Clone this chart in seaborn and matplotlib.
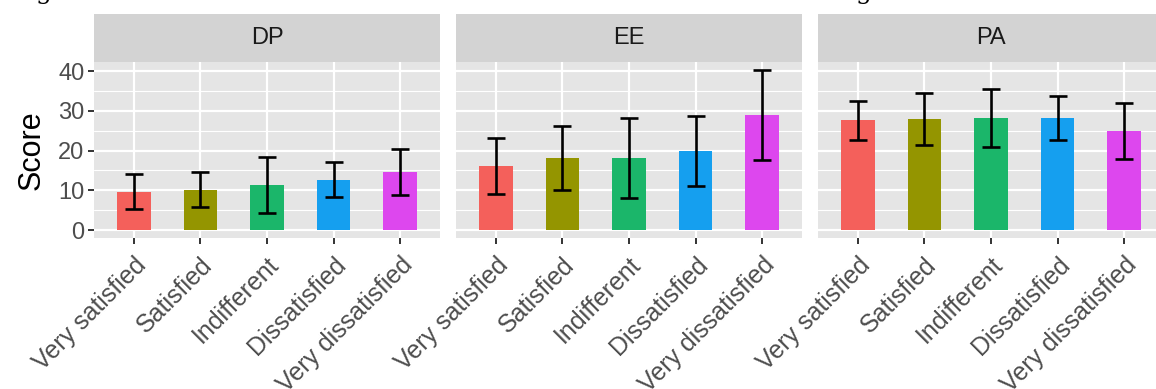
import numpy as np
import pandas as pd
import matplotlib
matplotlib.use("Agg")
import matplotlib.pyplot as plt
from matplotlib.patches import Rectangle
from matplotlib.transforms import ScaledTranslation
import seaborn as sns

# Burnout subscales by satisfaction level: mean score and standard deviation
levels = ["Very satisfied", "Satisfied", "Indifferent", "Dissatisfied", "Very dissatisfied"]
scales = ["DP", "EE", "PA"]

dp_mean = [9.7, 10.2, 11.3, 12.7, 14.6]
dp_sd = [4.3, 4.3, 7.0, 4.5, 5.7]
ee_mean = [16.2, 18.1, 18.1, 20.0, 28.9]
ee_sd = [7.0, 8.1, 10.0, 8.8, 11.3]
pa_mean = [27.6, 27.9, 28.2, 28.2, 24.9]
pa_sd = [5.0, 6.6, 7.3, 5.5, 7.1]

y_ticks = [0, 10, 20, 30, 40]
y_minor = [5, 15, 25, 35]

palette = ["#F4605B", "#949500", "#1BB66A", "#159FEF", "#DD47EE"]

df = pd.DataFrame({
    "scale": np.repeat(scales, len(levels)),
    "level": levels * len(scales),
    "score": dp_mean + ee_mean + pa_mean,
    "sd": dp_sd + ee_sd + pa_sd,
})

sns.set_theme(style="white")
plt.rcParams["font.family"] = ["Liberation Sans", "DejaVu Sans"]

W, H = 1156, 389
fig = plt.figure(figsize=(W / 100, H / 100), dpi=100)


def frame(x0, y0, x1, y1):
    return [x0 / W, 1 - y1 / H, (x1 - x0) / W, (y1 - y0) / H]


panel_px = [(94, 62, 440, 238), (456, 62, 802, 238), (818, 62, 1164, 238)]
strip_h = 48 / 176

panel_bg = "#E5E5E5"
strip_bg = "#D3D3D3"
tick_col = "#4D4D4D"

# drop rotated category labels a little below the tick marks
label_shift = ScaledTranslation(0, -5 / 100, fig.dpi_scale_trans)

for i, (scale, box) in enumerate(zip(scales, panel_px)):
    ax = fig.add_axes(frame(*box))
    sub = df[df["scale"] == scale]
    sns.barplot(data=sub, x="level", y="score", hue="level", order=levels,
                hue_order=levels, palette=palette, saturation=1, width=0.5,
                errorbar=None, legend=False, ax=ax, zorder=3, linewidth=0)
    xpos = np.arange(len(levels))
    ax.errorbar(xpos, sub["score"].to_numpy(), yerr=sub["sd"].to_numpy(),
                fmt="none", ecolor="black", elinewidth=1.9, capsize=6.5,
                capthick=1.9, zorder=4)

    ax.set_facecolor(panel_bg)
    for s in ax.spines.values():
        s.set_visible(False)
    ax.set_xlim(-0.6, 4.6)
    ax.set_ylim(-2.0, 42.3)
    ax.set_yticks(y_ticks)
    ax.set_yticks(y_minor, minor=True)
    ax.grid(which="major", color="white", linewidth=1.6, zorder=0)
    ax.grid(which="minor", axis="y", color="white", linewidth=0.8, zorder=0)
    ax.set_axisbelow(True)

    ax.tick_params(axis="both", which="major", length=4.5, width=1.4,
                   color="#333333", labelsize=17, labelcolor=tick_col, pad=2.5,
                   bottom=True, left=(i == 0))
    ax.tick_params(axis="y", which="minor", length=0)
    if i > 0:
        ax.set_yticklabels([])
    ax.set_xticks(xpos)
    ax.set_xticklabels(levels, rotation=45, ha="right", va="top",
                       rotation_mode="anchor", fontsize=18)
    for lab in ax.get_xticklabels():
        lab.set_transform(lab.get_transform() + label_shift)
    ax.set_xlabel("")
    if i == 0:
        ax.set_ylabel("Score", fontsize=22, color="black", labelpad=8)
    else:
        ax.set_ylabel("")

    ax.add_patch(Rectangle((0, 1), 1, strip_h, transform=ax.transAxes,
                           facecolor=strip_bg, edgecolor="none", clip_on=False))
    ax.text(0.5, 1 + strip_h / 2, scale, transform=ax.transAxes,
            ha="center", va="center", fontsize=17, color="#1A1A1A")

# caption line running off the top edge
fig.text(36 / W, 1 + 1 / H, "g", family="DejaVu Serif", fontsize=18,
         va="baseline", color="black")
fig.text(856 / W, 1 + 1 / H, "g", family="DejaVu Serif", fontsize=18,
         va="baseline", color="black")

fig.savefig("out.png", dpi=100, facecolor="white")
